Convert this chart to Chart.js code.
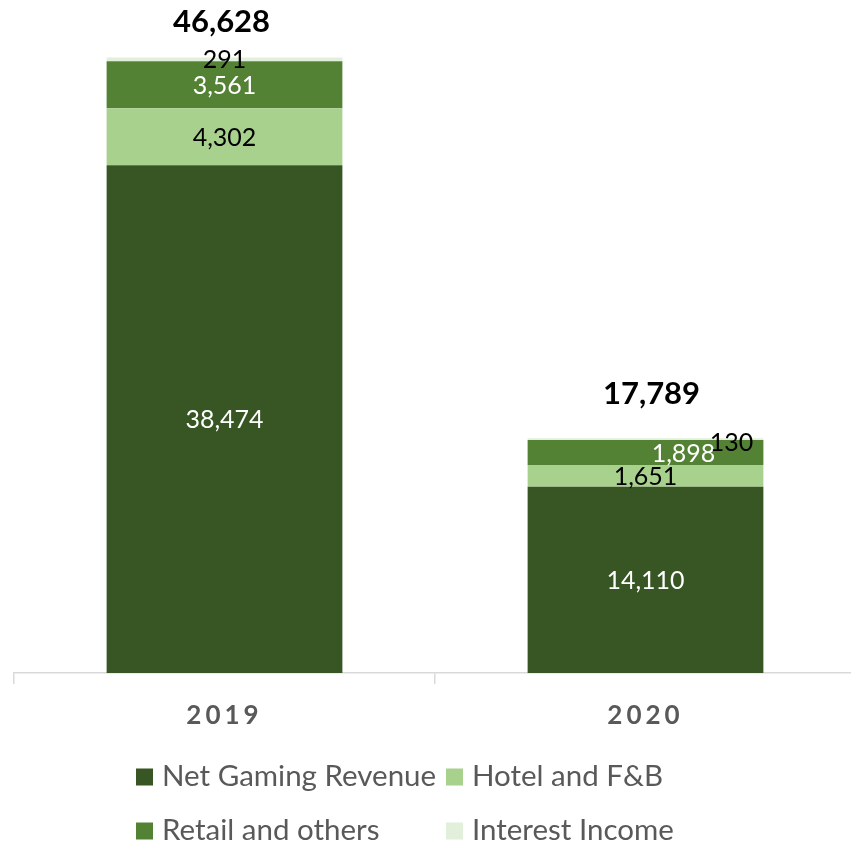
<!DOCTYPE html>
<html>
<head>
<meta charset="utf-8">
<script src="https://cdn.jsdelivr.net/npm/chart.js@4/dist/chart.umd.min.js"></script>
<style>
  html, body { margin: 0; padding: 0; background: #ffffff; overflow: hidden; }
  #wrap { width: 856px; height: 844px; position: relative; }
</style>
</head>
<body>
<div id="wrap"><canvas id="chart" width="856" height="844"></canvas></div>
<script>
// Revenue breakdown by year (stacked)
const years = ['2019', '2020'];
const netGaming = [38474, 14110];
const hotelFB = [4302, 1651];
const retailOthers = [3561, 1898];
const interestIncome = [291, 130];

const seriesNames = ['Net Gaming Revenue', 'Hotel and F&B', 'Retail and others', 'Interest Income'];
const seriesColors = ['#375623', '#A9D18E', '#548235', '#E2EFDA'];
const labelColors = ['#ffffff', '#000000', '#ffffff', '#000000'];

const FONT = 'Lato, "Open Sans", sans-serif';
const fmt = v => v.toLocaleString('en-US');

// Nudges for the small segment labels in the 2020 column
const labelNudge = { '2-1': [38, 1], '3-1': [86, 3] };
// Nudges for the total labels above each column
const totalNudge = [[-3, -36], [6, -44]];

const segmentLabels = {
  id: 'segmentLabels',
  afterDatasetsDraw(chart) {
    const ctx = chart.ctx;
    ctx.save();
    ctx.font = '25px ' + FONT;
    ctx.textAlign = 'center';
    ctx.textBaseline = 'middle';
    chart.data.datasets.forEach((ds, i) => {
      const meta = chart.getDatasetMeta(i);
      meta.data.forEach((bar, j) => {
        const n = labelNudge[i + '-' + j] || [0, 0];
        const cy = (bar.y + bar.base) / 2 + 1;
        ctx.fillStyle = labelColors[i];
        ctx.fillText(fmt(ds.data[j]), bar.x + n[0], cy + n[1]);
      });
    });
    // column totals
    const ys = chart.scales.y;
    const xs = chart.scales.x;
    ctx.font = 'bold 31px ' + FONT;
    ctx.fillStyle = '#000000';
    chart.data.labels.forEach((lab, j) => {
      const total = chart.data.datasets.reduce((s, ds) => s + ds.data[j], 0);
      const n = totalNudge[j];
      ctx.fillText(fmt(total), xs.getPixelForValue(j) + n[0], ys.getPixelForValue(total) + n[1]);
    });
    ctx.restore();
  }
};

const axisAndLegend = {
  id: 'axisAndLegend',
  afterDraw(chart) {
    const ctx = chart.ctx;
    const xs = chart.scales.x;
    ctx.save();
    // category labels, bold and letter-spaced
    ctx.font = 'bold 26px ' + FONT;
    ctx.fillStyle = '#595959';
    ctx.textAlign = 'center';
    ctx.textBaseline = 'middle';
    ctx.letterSpacing = '4px';
    chart.data.labels.forEach((lab, i) => {
      ctx.fillText(lab, xs.getPixelForTick(i), 716);
    });
    ctx.letterSpacing = '0px';
    // two-column legend
    const cols = [136, 446];
    const rows = [776, 830];
    const box = 17;
    ctx.font = '29.5px ' + FONT;
    ctx.textAlign = 'left';
    chart.data.datasets.forEach((ds, i) => {
      const cx = cols[i % 2];
      const cy = rows[Math.floor(i / 2)];
      ctx.fillStyle = ds.backgroundColor;
      ctx.fillRect(cx, cy - box / 2 + 1, box, box);
      ctx.fillStyle = '#595959';
      ctx.fillText(ds.label, cx + 26, cy);
    });
    ctx.restore();
  }
};

const seriesData = [netGaming, hotelFB, retailOthers, interestIncome];

new Chart(document.getElementById('chart'), {
  type: 'bar',
  data: {
    labels: years,
    datasets: seriesData.map((d, i) => ({
      label: seriesNames[i],
      data: d,
      backgroundColor: seriesColors[i],
      borderWidth: 0,
      categoryPercentage: 1,
      barPercentage: 0.56
    }))
  },
  options: {
    responsive: false,
    animation: false,
    layout: { padding: { left: 14, top: 13, right: 0, bottom: 0 } },
    plugins: { legend: { display: false }, tooltip: { enabled: false } },
    scales: {
      x: {
        stacked: true,
        offset: true,
        grid: { display: true, offset: true, drawOnChartArea: false, drawTicks: true, tickLength: 11, color: '#d9d9d9', lineWidth: 1.5 },
        border: { display: true, color: '#d9d9d9', width: 1.5 },
        ticks: { display: false },
        afterFit(scale) { scale.height = 171; }
      },
      y: {
        stacked: true,
        display: false,
        min: 0,
        max: 50000
      }
    }
  },
  plugins: [segmentLabels, axisAndLegend]
});
</script>
</body>
</html>
